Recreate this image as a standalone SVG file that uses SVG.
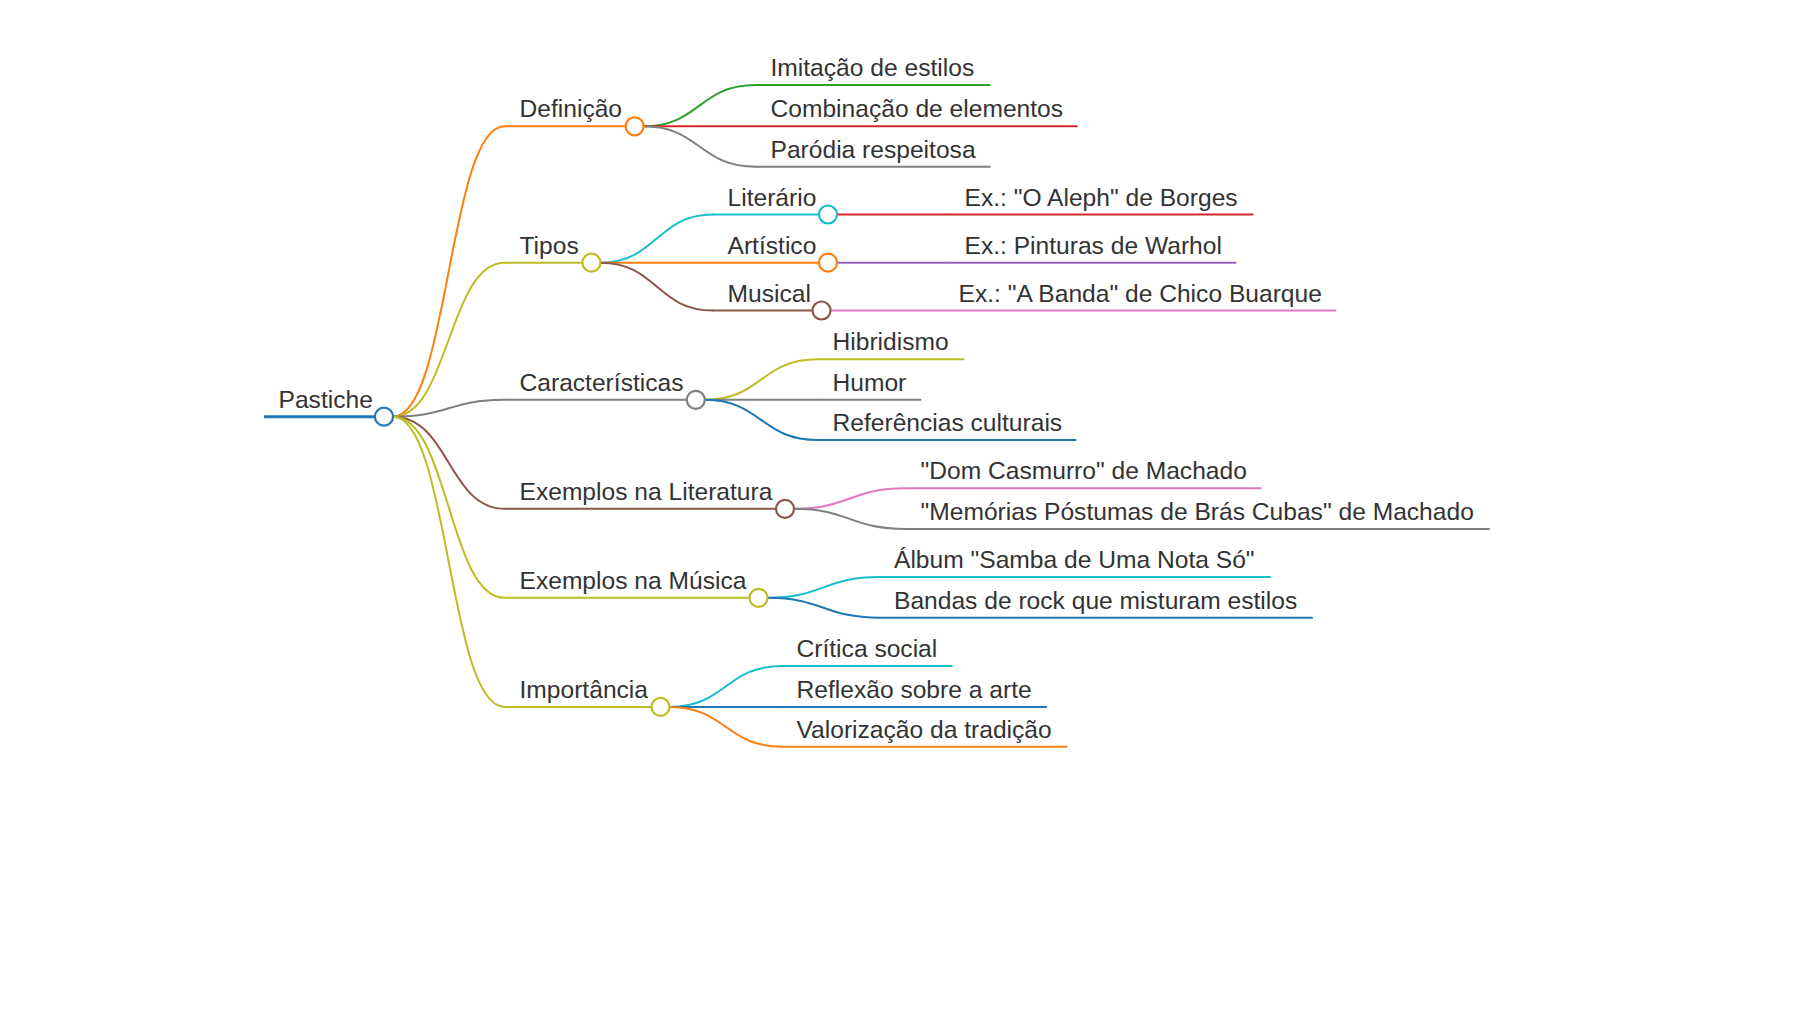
<svg xmlns="http://www.w3.org/2000/svg" width="1800" height="1012" viewBox="0 0 1800 1012">
<style>
  text { font-family: "Liberation Sans", Arial, sans-serif; font-size: 24.6px; fill: #333333; }
  .ln { fill: none; stroke-width: 2; stroke-linecap: round; }
  .lk { fill: none; stroke-width: 2; }
  .dot { fill: #ffffff; stroke-width: 2.2; }
  .blue { stroke: #1f77b4; } .orange { stroke: #ff7f0e; } .green { stroke: #2ca02c; }
  .red { stroke: #d62728; } .purple { stroke: #9467bd; } .brown { stroke: #8c564b; }
  .pink { stroke: #e377c2; } .gray { stroke: #7f7f7f; } .olive { stroke: #bcbd22; } .cyan { stroke: #17becf; }
</style>
<rect width="1800" height="1012" fill="#ffffff"/>
<g id="connectors">
  <path class="lk orange" d="M393,416.7 C448.7,416.7 448.7,126.3 504.5,126.3"/>
  <path class="lk olive" d="M393,416.7 C448.7,416.7 448.7,262.7 504.5,262.7"/>
  <path class="lk gray" d="M393,416.7 C448.7,416.7 448.7,399.8 504.5,399.8"/>
  <path class="lk brown" d="M393,416.7 C448.7,416.7 448.7,508.8 504.5,508.8"/>
  <path class="lk olive" d="M393,416.7 C448.7,416.7 448.7,597.8 504.5,597.8"/>
  <path class="lk olive" d="M393,416.7 C448.7,416.7 448.7,706.9 504.5,706.9"/>

  <path class="lk green" d="M643.6,126.3 C699.5,126.3 699.5,85 755.5,85"/>
  <path class="lk red" d="M643.6,126.3 L755.5,126.3"/>
  <path class="lk gray" d="M643.6,126.3 C699.5,126.3 699.5,166.7 755.5,166.7"/>

  <path class="lk cyan" d="M600.4,262.7 C656.7,262.7 656.7,214.5 713,214.5"/>
  <path class="lk orange" d="M600.4,262.7 L713,262.7"/>
  <path class="lk brown" d="M600.4,262.7 C656.7,262.7 656.7,310.5 713,310.5"/>

  <path class="lk red" d="M837,214.5 L949.5,214.5"/>
  <path class="lk purple" d="M837,262.7 L949.5,262.7"/>
  <path class="lk pink" d="M830.5,310.5 L943.5,310.5"/>

  <path class="lk olive" d="M704.8,399.8 C761.1,399.8 761.1,359.3 817.5,359.3"/>
  <path class="lk gray" d="M704.8,399.8 L817.5,399.8"/>
  <path class="lk blue" d="M704.8,399.8 C761.1,399.8 761.1,440 817.5,440"/>

  <path class="lk pink" d="M794,508.8 C849.7,508.8 849.7,488.3 905.5,488.3"/>
  <path class="lk gray" d="M794,508.8 C849.7,508.8 849.7,529 905.5,529"/>

  <path class="lk cyan" d="M767.5,597.8 C823.5,597.8 823.5,577 879.5,577"/>
  <path class="lk blue" d="M767.5,597.8 C823.5,597.8 823.5,617.7 879.5,617.7"/>

  <path class="lk cyan" d="M669.5,706.9 C725.7,706.9 725.7,666 782,666"/>
  <path class="lk blue" d="M669.5,706.9 L782,706.9"/>
  <path class="lk orange" d="M669.5,706.9 C725.7,706.9 725.7,746.7 782,746.7"/>
</g>

<g id="n-pastiche">
  <line class="blue" stroke-width="3" x1="264" y1="416.7" x2="384" y2="416.7"/>
  <text x="278.5" y="407.5">Pastiche</text>
  <circle class="dot blue" cx="384" cy="416.7" r="9"/>
</g>

<g id="n-definicao">
  <line class="ln orange" x1="504.5" y1="126.3" x2="634.6" y2="126.3"/>
  <text x="519.5" y="117.3">Definição</text>
  <circle class="dot orange" cx="634.6" cy="126.3" r="9"/>
</g>
<g id="n-imitacao">
  <line class="ln green" x1="755.5" y1="85" x2="989.8" y2="85"/>
  <text x="770.5" y="76">Imitação de estilos</text>
</g>
<g id="n-combinacao">
  <line class="ln red" x1="755.5" y1="126.3" x2="1076.9" y2="126.3"/>
  <text x="770.5" y="117.3">Combinação de elementos</text>
</g>
<g id="n-parodia">
  <line class="ln gray" x1="755.5" y1="166.7" x2="989.8" y2="166.7"/>
  <text x="770.5" y="157.7">Paródia respeitosa</text>
</g>

<g id="n-tipos">
  <line class="ln olive" x1="504.5" y1="262.7" x2="591.4" y2="262.7"/>
  <text x="519.5" y="253.7">Tipos</text>
  <circle class="dot olive" cx="591.4" cy="262.7" r="9"/>
</g>
<g id="n-literario">
  <line class="ln cyan" x1="713" y1="214.5" x2="828" y2="214.5"/>
  <text x="727.5" y="205.5">Literário</text>
  <circle class="dot cyan" cx="828" cy="214.5" r="9"/>
</g>
<g id="n-aleph">
  <line class="ln red" x1="949.5" y1="214.5" x2="1252.5" y2="214.5"/>
  <text x="964.5" y="205.5">Ex.: "O Aleph" de Borges</text>
</g>
<g id="n-artistico">
  <line class="ln orange" x1="713" y1="262.7" x2="828" y2="262.7"/>
  <text x="727.5" y="253.7">Artístico</text>
  <circle class="dot orange" cx="828" cy="262.7" r="9"/>
</g>
<g id="n-warhol">
  <line class="ln purple" x1="949.5" y1="262.7" x2="1235.5" y2="262.7"/>
  <text x="964.5" y="253.7">Ex.: Pinturas de Warhol</text>
</g>
<g id="n-musical">
  <line class="ln brown" x1="713" y1="310.5" x2="821.5" y2="310.5"/>
  <text x="727.5" y="301.5">Musical</text>
  <circle class="dot brown" cx="821.5" cy="310.5" r="9"/>
</g>
<g id="n-banda">
  <line class="ln pink" x1="943.5" y1="310.5" x2="1335.5" y2="310.5"/>
  <text x="958.5" y="301.5">Ex.: "A Banda" de Chico Buarque</text>
</g>

<g id="n-caracteristicas">
  <line class="ln gray" x1="504.5" y1="399.8" x2="695.8" y2="399.8"/>
  <text x="519.5" y="390.8">Características</text>
  <circle class="dot gray" cx="695.8" cy="399.8" r="9"/>
</g>
<g id="n-hibridismo">
  <line class="ln olive" x1="817.5" y1="359.3" x2="963.5" y2="359.3"/>
  <text x="832.5" y="350.3">Hibridismo</text>
</g>
<g id="n-humor">
  <line class="ln gray" x1="817.5" y1="399.8" x2="920.5" y2="399.8"/>
  <text x="832.5" y="390.8">Humor</text>
</g>
<g id="n-referencias">
  <line class="ln blue" x1="817.5" y1="440" x2="1075.5" y2="440"/>
  <text x="832.5" y="431">Referências culturais</text>
</g>

<g id="n-exlit">
  <line class="ln brown" x1="504.5" y1="508.8" x2="785" y2="508.8"/>
  <text x="519.5" y="499.8">Exemplos na Literatura</text>
  <circle class="dot brown" cx="785" cy="508.8" r="9"/>
</g>
<g id="n-domcasmurro">
  <line class="ln pink" x1="905.5" y1="488.3" x2="1260.8" y2="488.3"/>
  <text x="920.5" y="479.3">"Dom Casmurro" de Machado</text>
</g>
<g id="n-memorias">
  <line class="ln gray" x1="905.5" y1="529" x2="1489" y2="529"/>
  <text x="920.5" y="520">"Memórias Póstumas de Brás Cubas" de Machado</text>
</g>

<g id="n-exmus">
  <line class="ln olive" x1="504.5" y1="597.8" x2="758.5" y2="597.8"/>
  <text x="519.5" y="588.8">Exemplos na Música</text>
  <circle class="dot olive" cx="758.5" cy="597.8" r="9"/>
</g>
<g id="n-album">
  <line class="ln cyan" x1="879.5" y1="577" x2="1270" y2="577"/>
  <text x="894" y="568">Álbum "Samba de Uma Nota Só"</text>
</g>
<g id="n-bandas">
  <line class="ln blue" x1="879.5" y1="617.7" x2="1312" y2="617.7"/>
  <text x="894" y="608.7">Bandas de rock que misturam estilos</text>
</g>

<g id="n-importancia">
  <line class="ln olive" x1="504.5" y1="706.9" x2="660.5" y2="706.9"/>
  <text x="519.5" y="697.9">Importância</text>
  <circle class="dot olive" cx="660.5" cy="706.9" r="9"/>
</g>
<g id="n-critica">
  <line class="ln cyan" x1="782" y1="666" x2="951.8" y2="666"/>
  <text x="796.5" y="657">Crítica social</text>
</g>
<g id="n-reflexao">
  <line class="ln blue" x1="782" y1="706.9" x2="1046.2" y2="706.9"/>
  <text x="796.5" y="697.9">Reflexão sobre a arte</text>
</g>
<g id="n-valorizacao">
  <line class="ln orange" x1="782" y1="746.7" x2="1066.5" y2="746.7"/>
  <text x="796.5" y="737.7">Valorização da tradição</text>
</g>
</svg>
